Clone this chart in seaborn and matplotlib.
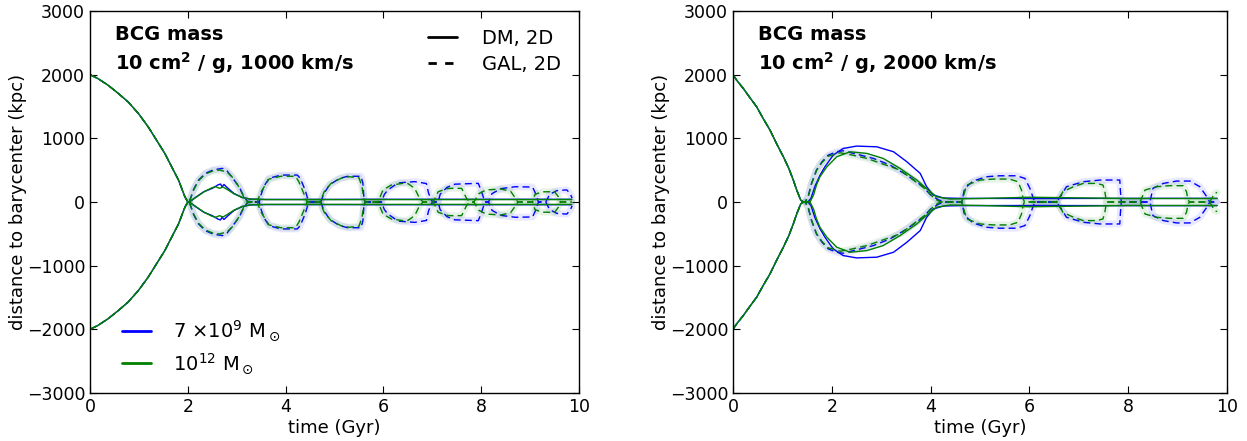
import matplotlib
matplotlib.use("Agg")
import matplotlib.pyplot as plt
from matplotlib.lines import Line2D
import seaborn as sns

# Values: time in Gyr, distance to barycenter in kpc.
# Only the upper branch is stored, the lower branch is its mirror image.

# ---- 10 cm^2/g, 1000 km/s ----
pre_1000_t = [0, 0.16, 0.37, 0.58, 0.78, 0.99, 1.19, 1.36, 1.53, 1.67, 1.81, 1.94, 2.0]
pre_1000_y = [2000, 1940, 1834, 1704, 1572, 1390, 1180, 972, 763, 553, 345, 83, 0]

dm_1000_blue_t = [2.03, 2.19, 2.33, 2.5, 2.62, 2.67, 2.70, 2.74, 2.8, 2.94, 3.11, 3.28, 3.6, 4.5, 6.0, 8.0, 9.85]
dm_1000_blue_y = [0, 90, 162, 214, 270, 282, 240, 275, 230, 136, 73, 45, 40, 40, 42, 42, 42]
dm_1000_green_t = [2.03, 2.19, 2.33, 2.5, 2.57, 2.65, 2.72, 2.8, 2.94, 3.11, 3.28, 3.6, 5.0, 7.0, 9.85]
dm_1000_green_y = [0, 85, 160, 225, 240, 215, 235, 200, 130, 70, 45, 38, 38, 38, 38]

gal_1000_blue_t = [2.03, 2.12, 2.22, 2.36, 2.52, 2.71, 2.80, 2.87, 3.05, 3.15, 3.22,
                   3.46, 3.50, 3.56, 3.66, 3.90, 4.24, 4.30, 4.40, 4.46, 4.50,
                   4.72, 4.78, 4.90, 5.10, 5.27, 5.54, 5.58, 5.60, 5.63,
                   5.96, 6.02, 6.09, 6.30, 6.64, 6.88, 6.92, 6.97, 7.02,
                   7.12, 7.16, 7.30, 7.46, 7.94, 8.00, 8.05, 8.08,
                   8.15, 8.22, 8.40, 8.70, 9.05, 9.12, 9.17,
                   9.32, 9.40, 9.55, 9.75, 9.82, 9.86]
gal_1000_blue_y = [0, 200, 345, 450, 505, 528, 490, 423, 240, 83, 10,
                   0, -120, -250, -371, -423, -423, -371, -188, -31, 0,
                   0, 130, 270, 370, 404, 404, 300, 80, 0,
                   0, -120, -188, -300, -320, -290, -150, -40, 0,
                   0, 120, 230, 280, 293, 180, 60, 0,
                   0, -130, -210, -240, -235, -120, 0,
                   0, 120, 180, 190, 130, 60]
gal_1000_green_t = [2.03, 2.12, 2.22, 2.36, 2.52, 2.65, 2.80, 2.90, 3.05, 3.15, 3.22,
                    3.42, 3.47, 3.52, 3.66, 3.90, 4.20, 4.27, 4.40, 4.44,
                    4.70, 4.79, 4.93, 5.13, 5.30, 5.50, 5.56, 5.60, 5.63,
                    5.89, 5.99, 6.16, 6.40, 6.50, 6.64, 6.74, 6.81,
                    7.02, 7.12, 7.33, 7.60, 7.70, 7.77,
                    7.85, 7.95, 8.10, 8.40, 8.60, 8.70, 8.75,
                    9.05, 9.10, 9.25, 9.50, 9.58, 9.62, 9.85]
gal_1000_green_y = [0, 190, 335, 440, 490, 502, 470, 400, 230, 70, 5,
                    0, -110, -188, -360, -404, -404, -319, -83, 0,
                    0, 162, 293, 371, 397, 380, 250, 50, 0,
                    0, -188, -266, -293, -290, -214, -57, 0,
                    0, 162, 214, 214, 57, 0,
                    0, -130, -190, -204, -170, -60, 0,
                    0, 120, 160, 162, 80, 0, 0]

# ---- 10 cm^2/g, 2000 km/s ----
pre_2000_t = [0, 0.075, 0.21, 0.34, 0.48, 0.61, 0.75, 0.88, 1.02, 1.13, 1.22, 1.29, 1.37, 1.42]
pre_2000_y = [2000, 1912, 1782, 1641, 1494, 1312, 1128, 920, 710, 528, 345, 188, 31, 0]

dm_2000_blue_t = [1.46, 1.52, 1.58, 1.66, 1.76, 1.86, 2.03, 2.23, 2.50, 2.91, 3.25, 3.52,
                  3.79, 3.92, 4.05, 4.26, 4.60, 6.0, 8.0, 9.8]
dm_2000_blue_y = [0, 5, 60, 250, 420, 553, 737, 841, 878, 867, 789, 632,
                  449, 240, 110, 63, 57, 55, 57, 57]
dm_2000_green_t = [1.46, 1.56, 1.63, 1.69, 1.76, 1.90, 2.10, 2.37, 2.71, 3.04, 3.38, 3.72,
                   3.95, 4.12, 4.39, 5.0, 6.0, 7.0, 8.0, 9.8]
dm_2000_green_y = [0, 0, 110, 266, 397, 553, 710, 789, 763, 685, 528, 345,
                   188, 83, 47, 55, 75, 65, 55, 55]

gal_2000_blue_t = [1.46, 1.52, 1.59, 1.69, 1.80, 1.93, 2.10, 2.23, 2.50, 2.84, 3.18, 3.52,
                   3.85, 4.00, 4.17, 4.30,
                   4.63, 4.69, 4.86, 5.13, 5.40, 5.74, 5.91, 6.01, 6.08, 6.11,
                   6.55, 6.65, 6.75, 7.09, 7.43, 7.83, 7.84, 7.86,
                   8.44, 8.50, 8.71, 8.98, 9.25, 9.45, 9.59, 9.65, 9.79]
gal_2000_blue_y = [0, 83, 293, 502, 630, 737, 789, 805, 752, 685, 580, 423,
                   240, 110, 31, 0,
                   0, -214, -329, -397, -412, -412, -370, -214, -57, 0,
                   0, 110, 240, 318, 345, 345, 200, 0,
                   0, -214, -292, -329, -329, -240, -84, 0, 0]
gal_2000_green_t = [1.46, 1.52, 1.59, 1.69, 1.80, 1.93, 2.17, 2.40, 2.71, 3.38, 3.92, 4.07, 4.20,
                    4.63, 4.73, 5.00, 5.27, 5.60, 5.77, 5.84, 5.87, 5.90,
                    6.55, 6.68, 6.89, 7.09, 7.36, 7.49, 7.53, 7.56,
                    8.24, 8.34, 8.57, 8.84, 9.11, 9.18, 9.21, 9.24,
                    9.65, 9.75, 9.80]
gal_2000_green_y = [0, 80, 285, 495, 620, 720, 773, 740, 685, 502, 188, 57, 0,
                    0, -266, -345, -360, -360, -318, -188, -60, 0,
                    0, 162, 240, 292, 292, 266, 150, 0,
                    0, -188, -240, -256, -256, -162, -40, 0,
                    0, 136, 150]

BLUE = "#0000ff"
GREEN = "#008000"

sns.set_style("ticks")
plt.rcParams.update({
    "font.family": ["DejaVu Sans"],
    "text.color": "black", "axes.labelcolor": "black",
    "xtick.direction": "in", "ytick.direction": "in",
    "xtick.top": True, "ytick.right": True,
    "xtick.major.size": 5, "ytick.major.size": 5,
    "xtick.color": "black", "ytick.color": "black",
    "axes.edgecolor": "black", "axes.linewidth": 1.0,
    "xtick.labelsize": 12.5, "ytick.labelsize": 12.5,
    "axes.labelsize": 13,
})

fig = plt.figure(figsize=(12.47, 4.41), dpi=100)
ax1 = fig.add_axes([90 / 1247, 48 / 441, 489 / 1247, 382 / 441])
ax2 = fig.add_axes([733 / 1247, 48 / 441, 494 / 1247, 382 / 441])

panels = [
    (ax1, pre_1000_t, pre_1000_y, "1000",
     [(BLUE, dm_1000_blue_t, dm_1000_blue_y, gal_1000_blue_t, gal_1000_blue_y),
      (GREEN, dm_1000_green_t, dm_1000_green_y, gal_1000_green_t, gal_1000_green_y)]),
    (ax2, pre_2000_t, pre_2000_y, "2000",
     [(BLUE, dm_2000_blue_t, dm_2000_blue_y, gal_2000_blue_t, gal_2000_blue_y),
      (GREEN, dm_2000_green_t, dm_2000_green_y, gal_2000_green_t, gal_2000_green_y)]),
]

dash = (0, (5, 3))
for ax, pre_t, pre_y, vel, runs in panels:
    for color, dm_t, dm_y, gal_t, gal_y in runs:
        for sign in (1, -1):
            # shaded uncertainty around the galaxy track
            sns.lineplot(x=gal_t, y=[sign * v for v in gal_y], ax=ax, color=color,
                         lw=5, alpha=0.09, estimator=None, sort=False,
                         solid_capstyle="round")
            sns.lineplot(x=pre_t + dm_t, y=[sign * v for v in pre_y + dm_y], ax=ax,
                         color=color, lw=1.0, estimator=None, sort=False)
            sns.lineplot(x=pre_t + gal_t, y=[sign * v for v in pre_y + gal_y], ax=ax,
                         color=color, lw=1.0, linestyle=dash, estimator=None, sort=False)

    ax.set_xlim(0, 10)
    ax.set_ylim(-3000, 3000)
    ax.set_xticks(range(0, 11, 2))
    ax.set_yticks(range(-3000, 3001, 1000))
    ax.set_xlabel("time (Gyr)", labelpad=2)
    ax.set_ylabel("distance to barycenter (kpc)", labelpad=0)
    ax.text(0.051, 0.924, "BCG mass", transform=ax.transAxes, fontsize=14,
            fontweight="bold", va="baseline")
    ax.text(0.051, 0.847, r"10 cm$^\mathbf{2}$ / g, " + vel + " km/s",
            transform=ax.transAxes, fontsize=14, fontweight="bold", va="baseline")

style_handles = [Line2D([], [], color="black", lw=2, label="DM, 2D"),
                 Line2D([], [], color="black", lw=2, ls=(0, (3, 3)), label="GAL, 2D")]
leg1 = ax1.legend(handles=style_handles, loc="upper right", bbox_to_anchor=(1.0, 1.0),
                  frameon=False, fontsize=14, handlelength=1.5, handletextpad=1.3,
                  labelspacing=0.4)
ax1.add_artist(leg1)
mass_handles = [Line2D([], [], color=BLUE, lw=2, label=r"7 $\times$10$^9$ M$_\odot$"),
                Line2D([], [], color=GREEN, lw=2, label=r"10$^{12}$ M$_\odot$")]
ax1.legend(handles=mass_handles, loc="lower left", bbox_to_anchor=(0.03, 0.0),
           frameon=False, fontsize=14, handlelength=1.5, handletextpad=1.1,
           labelspacing=0.4)

fig.savefig("out.png", dpi=100)
